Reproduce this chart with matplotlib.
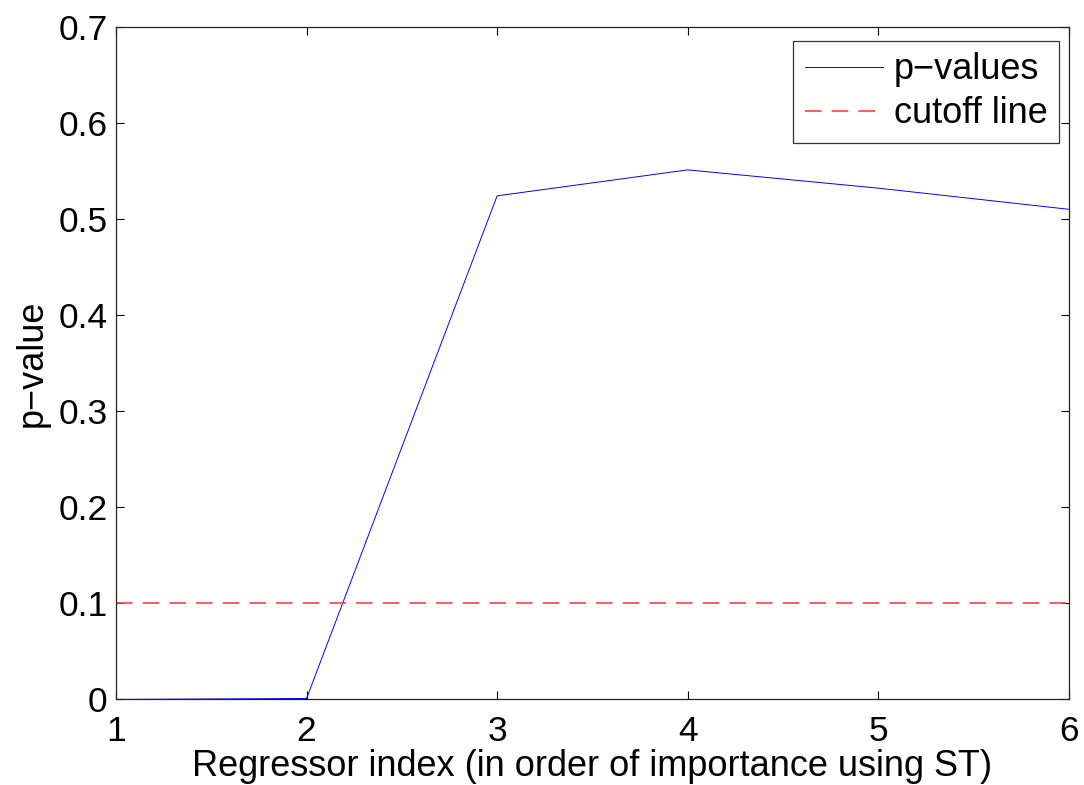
import matplotlib.pyplot as plt
import numpy as np

plt.rcParams['font.family'] = ['Liberation Sans', 'DejaVu Sans']

# regressor index vs p-value
regressor_idx = [1, 2, 3, 4, 5, 6]
p_values = [0.0, 0.001, 0.524, 0.551, 0.532, 0.510]
cutoff = 0.1

fig = plt.figure(figsize=(10.84, 7.85), dpi=100)
ax = fig.add_axes([0.107, 0.109, 0.879, 0.857])

ax.plot(regressor_idx, p_values, color=(0, 0, 1), linewidth=0.7, label='p\u2212values')
ax.axhline(cutoff, color=(1, 0.25, 0.25), linewidth=1.2, dashes=(10, 6), label='cutoff line')

ax.set_xlim(1, 6)
ax.set_ylim(0, 0.7)
ax.set_xticks(regressor_idx)
ax.set_yticks(np.arange(0, 0.71, 0.1))
ax.set_yticklabels(['0', '0.1', '0.2', '0.3', '0.4', '0.5', '0.6', '0.7'])

ax.tick_params(direction='in', length=6, width=0.8, top=True, right=True, labelsize=25.5)
ax.tick_params(axis='x', pad=11)
ax.tick_params(axis='y', pad=6)
for s in ax.spines.values():
    s.set_linewidth(0.9)
    s.set_color('#222222')

ax.set_xlabel('Regressor index (in order of importance using ST)', fontsize=26, labelpad=1)
ax.set_ylabel('p\u2212value', fontsize=26, labelpad=6)

leg = ax.legend(loc='upper right', bbox_to_anchor=(0.9895, 0.979), borderaxespad=0,
                fontsize=26, fancybox=False, framealpha=1, handlelength=2.15,
                handletextpad=0.3, borderpad=0.32, labelspacing=0.25)
leg.get_frame().set_edgecolor('#333333')
leg.get_frame().set_linewidth(0.9)

fig.savefig('out.png', dpi=100)
